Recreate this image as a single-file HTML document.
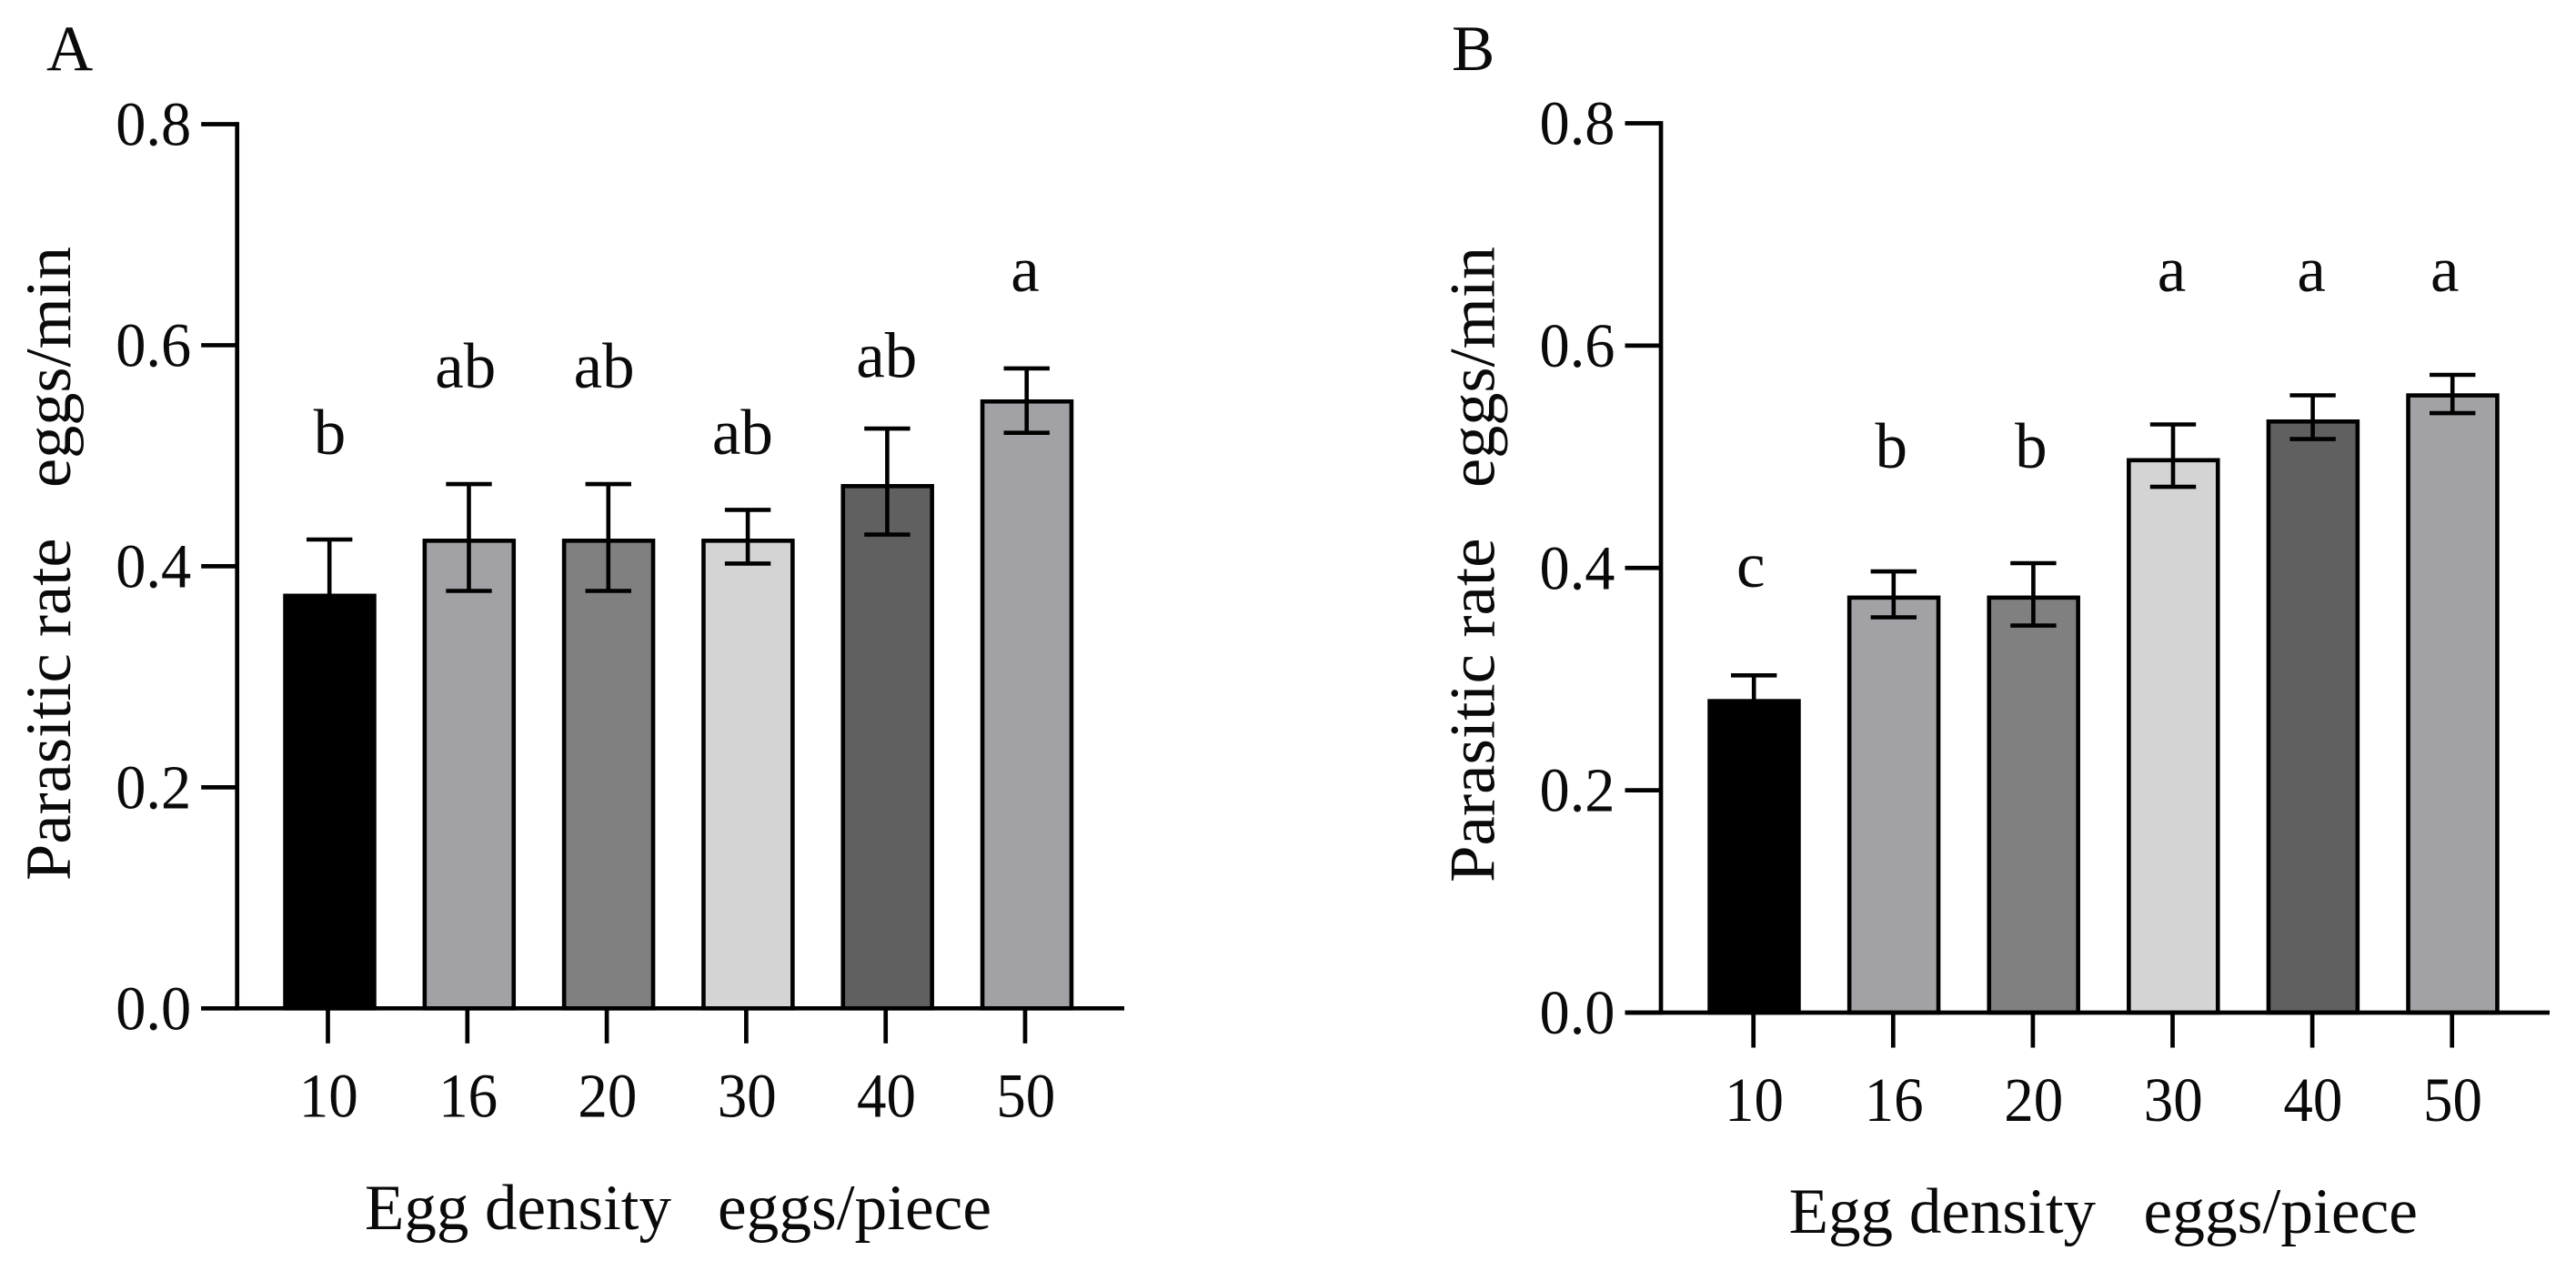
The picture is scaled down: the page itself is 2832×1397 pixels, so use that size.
<!DOCTYPE html>
<html lang="en">
<head>
<meta charset="utf-8">
<title>Parasitic rate by egg density</title>
<style>
  html, body { margin: 0; padding: 0; background: #fff; }
  svg { display: block; }
  text { font-family: "Liberation Serif", "DejaVu Serif", serif; fill: #0a0a0a; }
</style>
</head>
<body>
<svg id="figure" xmlns="http://www.w3.org/2000/svg" width="2832" height="1397" viewBox="0 0 2832 1397"></svg>
<script>
// Shared data
const categories = ['10', '16', '20', '30', '40', '50'];
const yTickValues = [0, 0.2, 0.4, 0.6, 0.8];
const yTickLabels = ['0.0', '0.2', '0.4', '0.6', '0.8'];
const yMax = 0.8;

// Panel A data
const meansA = [0.3752, 0.425, 0.425, 0.425, 0.4744, 0.551];
const upperA = [0.4242, 0.4744, 0.4744, 0.451, 0.5246, 0.579];
const lowerA = [0.327, 0.3777, 0.3777, 0.4024, 0.4287, 0.5208];
const lettersA = ['b', 'ab', 'ab', 'ab', 'ab', 'a'];
const letterLevelsA = [0.5016, 0.5617, 0.5617, 0.5016, 0.5712, 0.6491];

// Panel B data
const meansB = [0.2821, 0.3752, 0.3752, 0.4988, 0.5336, 0.5571];
const upperB = [0.3034, 0.3969, 0.4043, 0.5291, 0.5553, 0.5737];
const lowerB = [0.262, 0.3556, 0.3482, 0.473, 0.516, 0.5393];
const lettersB = ['c', 'b', 'b', 'a', 'a', 'a'];
const letterLevelsB = [0.383, 0.4902, 0.4902, 0.6488, 0.6488, 0.6488];

const barFills = ['#000000', '#a2a1a5', '#808080', '#d4d4d4', '#606060', '#a2a1a5'];

const svg = document.getElementById('figure');
const NS = 'http://www.w3.org/2000/svg';

function make(tag, attrs, parent, txt) {
  const el = document.createElementNS(NS, tag);
  for (const k in attrs) el.setAttribute(k, attrs[k]);
  if (txt !== undefined) el.textContent = txt;
  parent.appendChild(el);
  return el;
}

function drawPanel(p) {
  const g = make('g', {}, svg);
  
  

  const yScale = v => p.y0 - (v / yMax) * (p.y0 - p.yTop);
  const xScale = i => p.x0 + p.step * i;
  const barCenter = i => xScale(i) + p.barOffset;

  const panelLabel = make('text', { x: p.labelX, y: 77, 'font-size': 71 }, g, p.label);
  
  

  // Bars
  p.means.forEach((m, i) => {
    const top = yScale(m);
    const bar = make('rect', {
      x: barCenter(i) - 48.95, y: top + 2.3,
      width: 97.9, height: Math.max(0, p.y0 - top - 2.3),
      fill: barFills[i], stroke: '#000', 'stroke-width': 4.6
    }, g);
    
    
  });

  // Error bars
  p.means.forEach((m, i) => {
    const cx = barCenter(i) - 0.3;
    const hi = yScale(p.upper[i]);
    const lo = yScale(p.lower[i]);
    const err = make('path', {
      d: 'M' + (cx - 25.2) + ' ' + hi + 'H' + (cx + 25.2) +
         'M' + cx + ' ' + hi + 'V' + lo +
         'M' + (cx - 25.2) + ' ' + lo + 'H' + (cx + 25.2),
      fill: 'none', stroke: '#000', 'stroke-width': 4.6
    }, g);
    
    
  });

  // Significance letters
  p.letters.forEach((s, i) => {
    const attrs = {
      x: xScale(i) + p.letterNudge[i], y: yScale(p.letterLevels[i]),
      'font-size': 71, 'text-anchor': 'middle'
    };
    const t = make('text', attrs, g, s);
    
    
  });

  // Y axis
  const yAxis = make('path', {
    d: 'M' + p.axisX + ' ' + (p.yTop - 2.35) + 'V' + (p.y0 + 2.35),
    fill: 'none', stroke: '#000', 'stroke-width': 4.7
  }, g);
  
  

  yTickValues.forEach((v, i) => {
    const y = yScale(v);
    const tick = make('path', {
      d: 'M' + (p.axisX - 39.5) + ' ' + y + 'H' + p.axisX,
      fill: 'none', stroke: '#000', 'stroke-width': 4.7
    }, g);
    
    
    const label = make('text', {
      x: p.axisX - 50.5, y: y + 23, 'font-size': 69, 'text-anchor': 'end',
      textLength: 83, lengthAdjust: 'spacingAndGlyphs'
    }, g, yTickLabels[i]);
    
    
  });

  // X axis
  const xAxis = make('path', {
    d: 'M' + (p.axisX - 39.5) + ' ' + p.y0 + 'H' + p.xEnd,
    fill: 'none', stroke: '#000', 'stroke-width': 4.7
  }, g);
  
  

  categories.forEach((c, i) => {
    const x = xScale(i);
    const tick = make('path', {
      d: 'M' + x + ' ' + p.y0 + 'V' + (p.y0 + 38.5),
      fill: 'none', stroke: '#000', 'stroke-width': 4.7
    }, g);
    
    
    const label = make('text', {
      x: x + 0.8, y: p.y0 + 119, 'font-size': 69, 'text-anchor': 'middle',
      textLength: 65, lengthAdjust: 'spacingAndGlyphs'
    }, g, c);
    
    
  });

  // Axis titles
  const xt1 = make('text', {
    x: p.xTitle1[0], y: p.xTitleY, 'font-size': 71,
    textLength: p.xTitle1[1], lengthAdjust: 'spacingAndGlyphs'
  }, g, 'Egg density');
  
  
  const xt2 = make('text', {
    x: p.xTitle2[0], y: p.xTitleY, 'font-size': 71,
    textLength: p.xTitle2[1], lengthAdjust: 'spacingAndGlyphs'
  }, g, 'eggs/piece');
  
  

  const yt1 = make('text', {
    transform: 'translate(' + p.yTitleX + ' ' + p.yTitle1[0] + ') rotate(-90)',
    x: 0, y: 0, 'font-size': 71,
    textLength: p.yTitle1[1], lengthAdjust: 'spacingAndGlyphs'
  }, g, 'Parasitic rate');
  
  
  const yt2 = make('text', {
    transform: 'translate(' + p.yTitleX + ' 536) rotate(-90)',
    x: 0, y: 0, 'font-size': 71,
    textLength: 265, lengthAdjust: 'spacingAndGlyphs'
  }, g, 'eggs/min');
  
  
}

drawPanel({
  id: 'a', label: 'A', labelX: 51,
  means: meansA, upper: upperA, lower: lowerA,
  letters: lettersA, letterLevels: letterLevelsA,
  letterNudge: [2, -2, -3, -4, 1, 0],
  axisX: 260.7, y0: 1108.3, yTop: 136.5,
  x0: 360.5, step: 153.3, barOffset: 2, xEnd: 1236,
  xTitle1: [401, 337], xTitle2: [789, 301], xTitleY: 1351,
  yTitleX: 77, yTitle1: [968, 376.5]
});

drawPanel({
  id: 'b', label: 'B', labelX: 1596,
  means: meansB, upper: upperB, lower: lowerB,
  letters: lettersB, letterLevels: letterLevelsB,
  letterNudge: [-3, -2, -2, -1, -1, -8],
  axisX: 1826, y0: 1113, yTop: 135.5,
  x0: 1927.7, step: 153.6, barOffset: 0.8, xEnd: 2803,
  xTitle1: [1966.6, 337.5], xTitle2: [2356.5, 301.5], xTitleY: 1355,
  yTitleX: 1642.6, yTitle1: [970, 378.5]
});
</script>
</body>
</html>
